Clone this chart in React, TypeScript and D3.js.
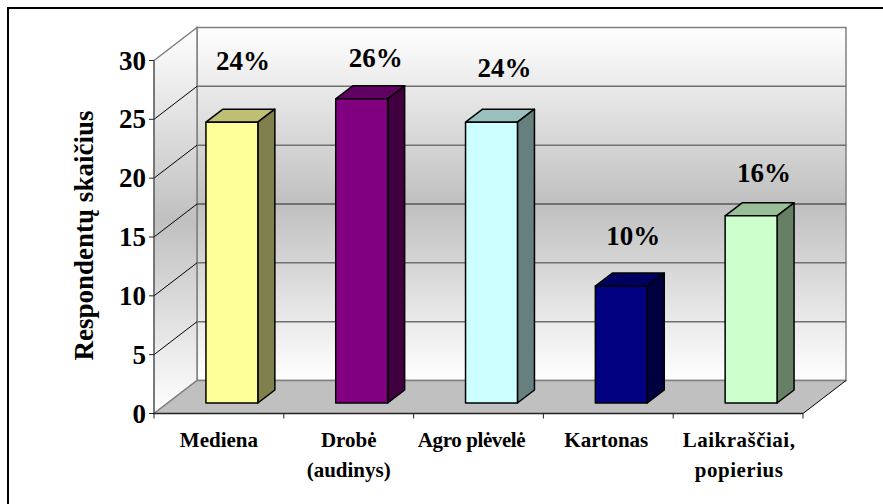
import * as d3 from "d3"

const categories = [["Mediena"], ["Drobė", "(audinys)"], ["Agro plėvelė"], ["Kartonas"], ["Laikraščiai,", "popierius"]]
const respondents = [24, 26, 24, 10, 16]
const percentLabels = ["24%", "26%", "24%", "10%", "16%"]
const frontColors = ["#ffff99", "#800080", "#ccffff", "#000080", "#ccffcc"]
const topColors = ["#bfbf73", "#600060", "#99bfbf", "#000060", "#99bf99"]
const sideColors = ["#80804d", "#400040", "#668080", "#000040", "#668066"]
const yTicks = [0, 5, 10, 15, 20, 25, 30]

// percent labels were hand placed in the original, so they float at uneven heights
const percentLift = [52, 32, 45, 41, 34]
const percentShift = [11, 14, 13, 12, 13]
const categoryShift = [0, 0, -7, -2, 1]
const categorySpacing = [0, 0, -0.4, 0, 0.5]

const width = 883
const height = 504
const serif = "'Liberation Serif', 'Times New Roman', serif"

// axis corners of the fake 3D box
const left = 154
const right = 803
const bottom = 413.5
const top = 60.5
const depthX = 43
const depthY = -33

// bars stand a bit inside the floor, so they get their own baseline
const barBase = 403
const barDepthX = 17
const barDepthY = -13
const barShift = 13

const x = d3.scaleBand<number>().domain(d3.range(categories.length)).range([left, right]).paddingInner(0.6).paddingOuter(0.3)
const bandX = d3.scaleBand<number>().domain(d3.range(categories.length)).range([left, right])
const y = d3.scaleLinear().domain([0, 30]).range([bottom, top])
const barY = d3.scaleLinear().domain([0, 30]).range([barBase, barBase - 351])

const poly = (pts: [number, number][]) => d3.line()(pts) + "Z"

export default function App() {
  return (
    <svg
      width={width}
      height={height}
      style={{ position: "fixed", left: 0, top: 0, background: "#fff" }}
      fontFamily={serif}
      fontWeight="bold"
    >
      <defs>
        <linearGradient id="wall" gradientUnits="userSpaceOnUse" x1="0" x2="0" y1={top + depthY} y2={bottom + depthY}>
          <stop offset="0" stopColor="#ffffff" />
          <stop offset="0.5" stopColor="#c0c0c0" />
          <stop offset="1" stopColor="#ffffff" />
        </linearGradient>
        <linearGradient id="sideWall" gradientUnits="userSpaceOnUse" x1="0" x2="0" y1={top + depthY} y2={bottom}>
          <stop offset="0" stopColor="#ffffff" />
          <stop offset="0.5" stopColor="#c0c0c0" />
          <stop offset="1" stopColor="#ffffff" />
        </linearGradient>
      </defs>

      {/* outer frame runs off the right and bottom of the picture */}
      <rect x={8} y={8} width={900} height={520} fill="none" stroke="#000" strokeWidth={2} />

      {/* walls and floor */}
      <path
        d={poly([[left + depthX, top + depthY], [right + depthX, top + depthY], [right + depthX, bottom + depthY], [left + depthX, bottom + depthY]])}
        fill="url(#wall)"
        stroke="#808080"
        strokeWidth={1.5}
      />
      <path
        d={poly([[left, top], [left + depthX, top + depthY], [left + depthX, bottom + depthY], [left, bottom]])}
        fill="url(#sideWall)"
        stroke="#808080"
        strokeWidth={1.5}
      />
      <path
        d={poly([[left, bottom], [left + depthX, bottom + depthY], [right + depthX, bottom + depthY], [right, bottom]])}
        fill="#c0c0c0"
      />
      <line x1={left} y1={bottom} x2={left + depthX} y2={bottom + depthY} stroke="#808080" strokeWidth={1.5} />
      <line x1={left + depthX} y1={bottom + depthY} x2={right + depthX} y2={bottom + depthY} stroke="#808080" strokeWidth={1.5} />
      <line x1={right} y1={bottom} x2={right + depthX} y2={bottom + depthY} stroke="#000" />

      {/* gridlines */}
      {yTicks.filter((t) => t > 0 && t < 30).map((t) => (
        <g key={t}>
          <line x1={left} y1={y(t)} x2={left + depthX} y2={y(t) + depthY} stroke="#000" />
          <line x1={left + depthX} y1={y(t) + depthY} x2={right + depthX} y2={y(t) + depthY} stroke={t === 15 ? "#222" : "#707070"} strokeWidth={t === 15 ? 1 : 1.5} />
        </g>
      ))}

      {/* axes */}
      <line x1={left} y1={top} x2={left} y2={bottom} stroke="#555" strokeWidth={1} />
      <line x1={left} y1={bottom} x2={right} y2={bottom} stroke="#222" strokeWidth={1.5} />
      {yTicks.map((t) => (
        <g key={t}>
          <line x1={left - 5} y1={y(t)} x2={left} y2={y(t)} stroke="#222" />
          <text x={left - 8} y={y(t) + 9} fontSize={27} textAnchor="end">{t}</text>
        </g>
      ))}
      {d3.range(categories.length + 1).map((i) => {
        const tx = left + i * bandX.step()
        return <line key={i} x1={tx} y1={bottom} x2={tx} y2={bottom + 5} stroke="#222" />
      })}

      {/* bars */}
      {respondents.map((v, i) => {
        const x0 = x(i)! + barShift
        const x1 = x0 + x.bandwidth()
        const yTop = barY(v)
        return (
          <g key={i} stroke="#000" strokeWidth={1.5} strokeLinejoin="round">
            <path d={poly([[x0, yTop], [x0 + barDepthX, yTop + barDepthY], [x1 + barDepthX, yTop + barDepthY], [x1, yTop]])} fill={topColors[i]} />
            <path d={poly([[x1, yTop], [x1 + barDepthX, yTop + barDepthY], [x1 + barDepthX, barBase + barDepthY], [x1, barBase]])} fill={sideColors[i]} />
            <rect x={x0} y={yTop} width={x.bandwidth()} height={barBase - yTop} fill={frontColors[i]} />
          </g>
        )
      })}

      {/* percent labels */}
      {respondents.map((v, i) => (
        <text key={i} x={x(i)! + x.bandwidth() / 2 + barShift + percentShift[i]} y={barY(v) - percentLift[i]} fontSize={27} textAnchor="middle">
          {percentLabels[i]}
        </text>
      ))}

      {/* category labels */}
      {categories.map((lines, i) => {
        const cx = bandX(i)! + bandX.bandwidth() / 2 + categoryShift[i]
        return (
          <text key={i} x={cx} fontSize={21} textAnchor="middle" letterSpacing={categorySpacing[i]}>
            {lines.map((l, j) => (
              <tspan key={j} x={cx} y={447 + j * 30}>{l}</tspan>
            ))}
          </text>
        )
      })}

      <text transform="translate(93,235.5) rotate(-90)" fontSize={27} textAnchor="middle">Respondentų skaičius</text>
    </svg>
  )
}
